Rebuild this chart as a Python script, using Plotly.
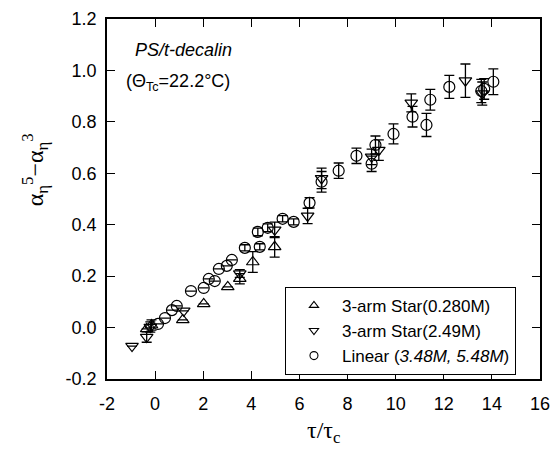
import plotly.graph_objects as go

# 3-arm star (0.280M) - up triangles
star1_x = [-0.35, -0.15, 1.15, 2.02, 3.02, 3.52, 4.06, 4.97]
star1_y = [-0.005, 0.01, 0.03, 0.092, 0.158, 0.19, 0.255, 0.314]
star1_e = [0.0, 0.02, 0.0, 0.0, 0.0, 0.02, 0.04, 0.04]

# 3-arm star (2.49M) - down triangles
star2_x = [-0.96, -0.35, -0.2, 1.19, 3.52, 4.97, 6.34, 6.92, 9.0, 9.3, 10.65, 12.9, 13.6]
star2_y = [-0.072, -0.037, 0.002, 0.065, 0.21, 0.38, 0.434, 0.58, 0.664, 0.69, 0.874, 0.96, 0.91]
star2_e = [0.0, 0.02, 0.02, 0.0, 0.015, 0.03, 0.03, 0.04, 0.03, 0.04, 0.035, 0.065, 0.045]

# Linear (3.48M, 5.48M) - circles
lin_x = [0.12, 0.41, 0.70, 0.90, 1.49, 2.02, 2.23, 2.48, 2.65, 2.98, 3.19,
         3.73, 4.35, 4.27, 4.68, 5.30, 5.76, 6.42, 6.92, 7.63, 8.37, 9.0,
         9.16, 9.91, 10.70, 11.28, 11.44, 12.23, 13.56, 13.68, 14.06]
lin_y = [0.014, 0.037, 0.068, 0.084, 0.142, 0.154, 0.189, 0.181, 0.228, 0.24, 0.263,
         0.31, 0.314, 0.372, 0.388, 0.423, 0.411, 0.485, 0.567, 0.61, 0.668, 0.637,
         0.71, 0.753, 0.82, 0.788, 0.886, 0.936, 0.92, 0.928, 0.956]
lin_e = [0.0, 0.0, 0.0, 0.0, 0.0, 0.0, 0.0, 0.0, 0.0, 0.0, 0.0,
         0.012, 0.012, 0.015, 0.015, 0.012, 0.012, 0.02, 0.04, 0.03, 0.03, 0.03,
         0.035, 0.039, 0.04, 0.045, 0.04, 0.045, 0.045, 0.04, 0.05]

x_ticks = [-2, 0, 2, 4, 6, 8, 10, 12, 14, 16]
x_ticklabels = ["-2", "0", "2", "4", "6", "8", "10", "12", "14", "16"]
y_ticks = [-0.2, 0.0, 0.2, 0.4, 0.6, 0.8, 1.0, 1.2]
y_ticklabels = ["-0.2", "0.0", "0.2", "0.4", "0.6", "0.8", "1.0", "1.2"]

names = ["3-arm Star(0.280M)", "3-arm Star(2.49M)", "Linear (<i>3.48M, 5.48M</i>)"]
symbols = ["triangle-up-open", "triangle-down-open", "circle-open"]

fig = go.Figure()

def add(xs, ys, es, sym, name):
    fig.add_trace(go.Scatter(
        x=xs, y=ys, mode="markers", name=name, showlegend=False,
        marker=dict(symbol=sym, size=11, color="black", line=dict(width=1.2, color="black")),
        error_y=dict(type="data", array=es, visible=True, color="black", thickness=1.3, width=5),
    ))

add(star1_x, star1_y, star1_e, symbols[0], names[0])
add(star2_x, star2_y, star2_e, symbols[1], names[1])
add(lin_x, lin_y, lin_e, symbols[2], names[2])

# legend-only entries with smaller symbols
for sym, name in zip(symbols, names):
    fig.add_trace(go.Scatter(
        x=[None], y=[None], mode="markers", name=name, showlegend=True,
        marker=dict(symbol=sym, size=8, color="black", line=dict(width=1.1, color="black")),
    ))

axis_common = dict(showline=True, linecolor="black", linewidth=1.5, mirror="allticks",
                   ticks="inside", ticklen=8, tickwidth=1.3, tickcolor="black",
                   showgrid=False, zeroline=False, automargin=False,
                   tickfont=dict(family="Liberation Sans, Arial", size=18, color="black"))

fig.update_layout(
    width=555, height=450,
    margin=dict(l=107, r=15, t=19, b=71),
    paper_bgcolor="white", plot_bgcolor="white",
    xaxis=dict(range=[-2, 16], tickvals=x_ticks, ticktext=x_ticklabels,
               ticklabelstandoff=8, **axis_common),
    yaxis=dict(range=[-0.2, 1.2], tickvals=y_ticks, ticktext=y_ticklabels,
               ticklabelstandoff=5, **axis_common),
    legend=dict(x=0.411, y=0.256, xanchor="left", yanchor="top",
                bordercolor="black", borderwidth=1, bgcolor="white",
                font=dict(family="Liberation Sans, Arial", size=17, color="black"),
                itemwidth=46, tracegroupgap=0),
    showlegend=True,
    annotations=[
        dict(text="τ/τ<sub>c</sub>", xref="paper", yref="paper", x=0.5, y=-0.147,
             xanchor="center", yanchor="middle", showarrow=False,
             font=dict(family="Liberation Serif, Times New Roman", size=24, color="black")),
        dict(text="α<sub>η</sub><sup>5</sup>−α<sub>η</sub><sup>3</sup>", xref="paper", yref="paper",
             x=-0.166, y=0.58, xanchor="center", yanchor="middle", textangle=-90, showarrow=False,
             font=dict(family="Liberation Serif, Times New Roman", size=24, color="black")),
        dict(text="<i>PS/t-decalin</i>", xref="paper", yref="paper",
             x=(133 - 107) / 433, y=(379 - 50) / 360, xanchor="left", yanchor="middle", showarrow=False,
             font=dict(family="Liberation Sans, Arial", size=18, color="black")),
        dict(text="(Θ<sub>Tc</sub>=22.2°C)", xref="paper", yref="paper",
             x=(124 - 107) / 433, y=(379 - 82) / 360, xanchor="left", yanchor="middle", showarrow=False,
             font=dict(family="Liberation Sans, Arial", size=18, color="black")),
    ],
)

fig.write_html("out.html")
